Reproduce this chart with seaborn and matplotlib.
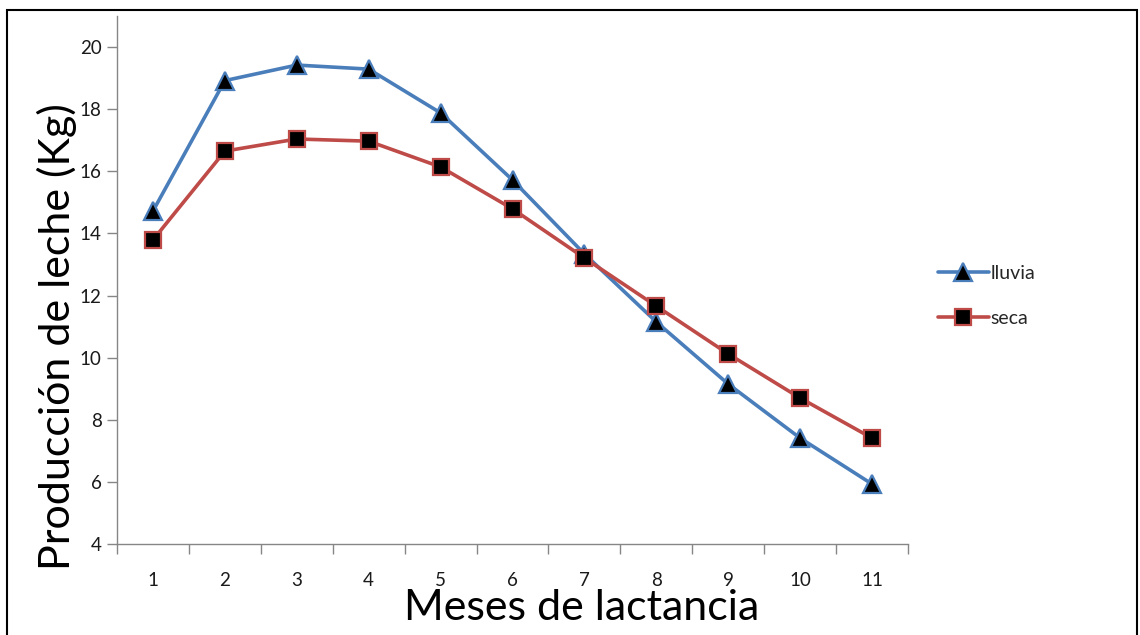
import numpy as np
import pandas as pd
import seaborn as sns
import matplotlib
matplotlib.use("Agg")
import matplotlib.pyplot as plt
from matplotlib.patches import Rectangle
from matplotlib.ticker import FixedLocator

meses = [1, 2, 3, 4, 5, 6, 7, 8, 9, 10, 11]
lluvia = [14.72, 18.92, 19.42, 19.29, 17.88, 15.72, 13.34, 11.15, 9.15, 7.41, 5.93]
seca = [13.79, 16.65, 17.04, 16.97, 16.14, 14.79, 13.21, 11.66, 10.12, 8.70, 7.41]
yticks = [4, 6, 8, 10, 12, 14, 16, 18, 20]

sns.set_theme(style="white")
plt.rcParams['font.family'] = ['Lato', 'DejaVu Sans']

fig = plt.figure(figsize=(11.4, 6.35), dpi=100)
ax = fig.add_axes([117/1140, 1-544/635, (908-117)/1140, (544-16)/635])

df = pd.DataFrame({"mes": meses * 2,
                   "prod": lluvia + seca,
                   "serie": ["lluvia"] * len(meses) + ["seca"] * len(meses)})

styles = {"lluvia": dict(color="#4A7EBB", marker="^", ms=13),
          "seca": dict(color="#BE4B48", marker="s", ms=11.5)}
for name, st in styles.items():
    sub = df[df.serie == name]
    sns.lineplot(data=sub, x="mes", y="prod", ax=ax, color=st["color"],
                 marker=st["marker"], markersize=st["ms"], markerfacecolor="black",
                 markeredgecolor=st["color"], markeredgewidth=1.6, linewidth=2.6,
                 label=name, legend=False)

ax.set_xlim(0.5, 11.5)
ax.set_ylim(4, 21)
ax.set_yticks(yticks)
ax.set_xticks(meses)
ax.xaxis.set_minor_locator(FixedLocator(np.arange(0.5, 11.6, 1)))
ax.tick_params(axis="x", which="major", length=0, pad=20, labelsize=13.5, labelcolor="#1a1a1a")
ax.tick_params(axis="x", which="minor", length=7, width=1, color="#868686", direction="out", bottom=True)
ax.tick_params(axis="y", which="major", length=7, width=1, color="#868686", direction="out", left=True,
               pad=4, labelsize=13.5, labelcolor="#1a1a1a")
for s in ["top", "right"]:
    ax.spines[s].set_visible(False)
for s in ["left", "bottom"]:
    ax.spines[s].set_color("#868686")
    ax.spines[s].set_linewidth(1)
ax.set_xlabel("")
ax.set_ylabel("")
ax.grid(False)

leg = ax.legend(loc="center left", bbox_to_anchor=(938/1140, 1-296/635), bbox_transform=fig.transFigure,
                frameon=False, fontsize=14, borderpad=0, borderaxespad=0,
                handlelength=2.6, labelspacing=1.45, handletextpad=0.1)

fig.text(582/1140, 1-620/635, "Meses de lactancia", ha="center", va="baseline", fontsize=31, color="black")
fig.text(57/1140, 1-337/635, "Producción de leche (Kg)", ha="center", va="center", rotation=90,
         fontsize=31, color="black")

fig.patches.append(Rectangle((7/1140, -0.01), (1137-7)/1140, 1.01 - 10/635, transform=fig.transFigure,
                             fill=False, edgecolor="black", linewidth=1.5))

fig.savefig("out.png", dpi=100, facecolor="white")
